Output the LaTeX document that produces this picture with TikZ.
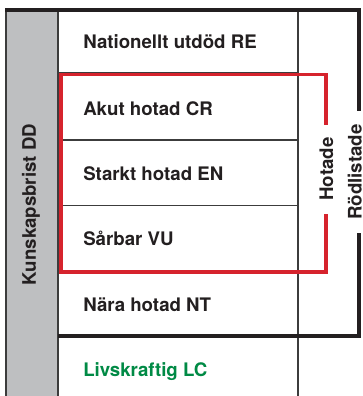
\documentclass[tikz,border=0pt]{standalone}
\usepackage{fontspec}
\setmainfont{TeX Gyre Heros}
\definecolor{txt}{RGB}{35,31,32}
\definecolor{rlred}{RGB}{214,35,45}
\definecolor{rlgreen}{RGB}{0,138,69}
\definecolor{colgray}{RGB}{190,191,193}
\definecolor{thin}{RGB}{60,60,60}
\tikzset{
  rowtext/.style={anchor=base west, inner sep=0pt, text=txt, font=\fontsize{14}{16}\selectfont\bfseries},
  sidetext/.style={anchor=base, inner sep=0pt, rotate=90, text=txt, font=\fontsize{14}{16}\selectfont\bfseries},
  thickline/.style={line width=3pt, draw=txt, line join=miter},
  thinline/.style={line width=1.1pt, draw=thin},
  redline/.style={line width=2.8pt, draw=rlred, line join=miter},
}
\begin{document}
\begin{tikzpicture}[x=0.75pt,y=-0.75pt]
\useasboundingbox (0,0) rectangle (362,396);
\fill[white] (0,0) rectangle (362,396);
% gray column
\fill[colgray] (6,9) rectangle (58,396);
\draw[thinline, line width=1.5pt] (6,9) -- (6,396);
\draw[thinline, line width=1.5pt] (58,9) -- (58,396);
% vertical separator
\draw[thinline] (298,9) -- (298,396);
% row separators
\draw[thinline] (58,73) -- (298,73);
\draw[thinline] (58,140) -- (298,140);
\draw[thinline] (58,205.5) -- (298,205.5);
\draw[thinline] (58,272) -- (298,272);
% thick frame (Rödlistade)
\draw[thickline] (5,9.5) -- (358.5,9.5) -- (358.5,111);
\draw[thickline] (358.5,233) -- (358.5,335.5) -- (58,335.5);
% red frame (Hotade)
\draw[redline] (326,214) -- (326,272) -- (61,272) -- (61,74.5) -- (326,74.5) -- (326,125);
% texts
\node[rowtext] (re) at (83,48.3) {Nationellt utdöd RE};
\node[rowtext] (cr) at (83,115) {Akut hotad CR};
\node[rowtext] (en) at (83,180) {Starkt hotad EN};
\node[rowtext] (vu) at (83,245) {Sårbar VU};
\node[rowtext] (nt) at (83,311) {Nära hotad NT};
\node[rowtext, text=rlgreen] (lc) at (83,376.7) {Livskraftig LC};
\node[sidetext] (dd) at (36,204.5) {Kunskapsbrist DD};
\node[sidetext] (hot) at (333,169) {Hotade};
\node[sidetext] (rod) at (361.5,172) {Rödlistade};
\end{tikzpicture}
\end{document}
